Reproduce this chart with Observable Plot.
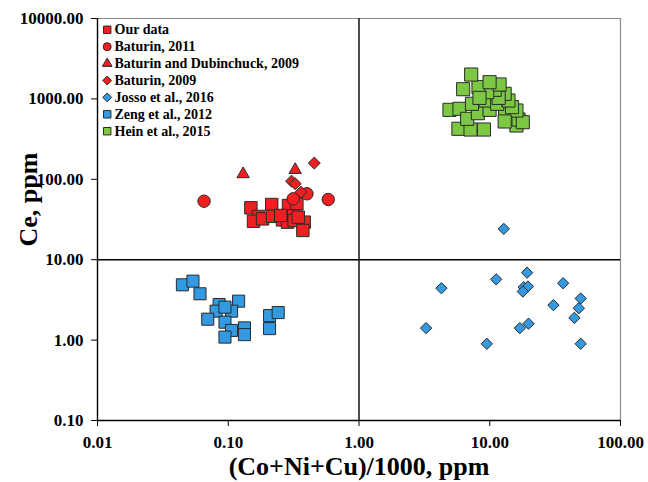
<!DOCTYPE html>
<html><head><meta charset="utf-8">
<script src="https://cdn.jsdelivr.net/npm/d3@7"></script>
<script src="https://cdn.jsdelivr.net/npm/@observablehq/plot@0.6"></script>
<style>
body{margin:0;background:#fff;}
#chart svg{display:block;}
</style>
</head><body><div id="chart"></div>
<script>
// ---- data ----
const ourX = [0.149,0.215,0.289,0.335,0.170,0.156,0.183,0.218,0.260,0.284,0.316,0.319,0.381,0.372,0.343,0.252];
const ourY = [44.2,48.6,47.2,49.6,34.5,30.1,32.2,34.7,31.3,29.3,35.2,30.7,29.3,23.1,33.8,35.5];
const bat2011X = [0.0653,0.314,0.400,0.582];
const bat2011Y = [53.4,57.2,66.0,56.1];
const batDubX = [0.130,0.325];
const batDubY = [116,131];
const bat2009X = [0.455,0.305,0.325,0.360];
const bat2009Y = [159,94.8,88,69.2];
const jossoX = [12.8,11.2,19.3,4.27,18.2,19.6,17.9,36.4,30.7,49.6,48.0,44.4,3.26,17.0,19.8,9.5,49.6];
const jossoY = [24.2,5.7,6.9,4.42,4.55,4.64,4.02,5.1,2.72,3.29,2.49,1.89,1.41,1.41,1.60,0.90,0.90];
const zengX = [0.0446,0.0537,0.0608,0.0852,0.120,0.0807,0.106,0.0944,0.0697,0.0944,0.106,0.0944,0.133,0.133,0.207,0.241,0.207];
const zengY = [4.87,5.41,3.77,2.77,3.05,2.29,2.29,2.57,1.82,1.67,1.32,1.09,1.42,1.17,2.02,2.20,1.39];
const heinX = [6.26,4.92,5.87,5.76,7.13,9.03,6.72,8.11,7.31,9.97,13.1,16.0,16.6,17.9,16.0,13.0,9.29,11.4,14.8,13.9,13.0,11.7,10.9,9.57,8.2,11.9,9.97,7.21,8.35];
const heinY = [1320,731,753,425,416,416,565,664,869,731,731,467,554,513,717,524,955,869,789,955,1157,1030,1297,1211,1400,1510,1614,2009,1030];
const xTicks = [0.01,0.1,1,10,100];
const yTicks = [0.1,1,10,100,1000,10000];
const seriesNames = ["Our data","Baturin, 2011","Baturin and Dubinchuck, 2009","Baturin, 2009","Josso et al., 2016","Zeng et al., 2012","Hein et al., 2015"];
const seriesSymbols = ["square","circle","triangle","diamond2","diamond2","square","square"];
const seriesColors = ["#f01f22","#f01f22","#f01f22","#f01f22","#3399e0","#3399e0","#7dc843"];

const font = "'Liberation Serif','Times New Roman',serif";
const stroke = "#2a2a2a";
function dots(xs, ys, symbol, fill, r) {
  return Plot.dot(xs, {x: xs, y: ys, symbol, r, fill, stroke, strokeWidth: 1});
}
const legendMarks = [];
const legendR = [4.2, 4, 3.6, 4, 4, 4.2, 4.2];
seriesNames.forEach((name, i) => {
  legendMarks.push(Plot.dot([name], {frameAnchor: "top-left", dx: 9.7, dy: 11.3 + 16.9 * i,
    symbol: seriesSymbols[i], r: legendR[i], fill: seriesColors[i], stroke, strokeWidth: 1}));
  legendMarks.push(Plot.text([name], {frameAnchor: "top-left", dx: 17, dy: 11.3 + 16.9 * i,
    text: d => d, textAnchor: "start", lineAnchor: "middle", fontSize: 14, fontWeight: "bold", fontFamily: font, fill: "#000"}));
});

const chart = Plot.plot({
  width: 648, height: 482,
  marginLeft: 97, marginRight: 28, marginTop: 18, marginBottom: 62,
  style: {fontFamily: font, fontWeight: "bold", background: "#fff", color: "#000"},
  x: {type: "log", domain: [0.01, 100]},
  y: {type: "log", domain: [0.1, 10000]},
  marks: [
    Plot.ruleY([10000], {stroke: "#8a8a8a", strokeWidth: 1.2}),
    Plot.ruleX([100], {stroke: "#8a8a8a", strokeWidth: 1.2}),
    Plot.ruleX([1], {stroke: "#000", strokeWidth: 1.4}),
    Plot.ruleY([10], {stroke: "#000", strokeWidth: 1.4}),
    Plot.ruleX([0.01], {stroke: "#000", strokeWidth: 1.4}),
    Plot.ruleY([0.1], {stroke: "#000", strokeWidth: 1.4}),
    Plot.axisY({ticks: yTicks, tickFormat: d3.format(".2f"), tickSize: 6, tickPadding: 8, fontSize: 17, fontWeight: "bold", label: null}),
    Plot.axisX({ticks: xTicks, tickFormat: d3.format(".2f"), tickSize: 6, tickPadding: 9, fontSize: 17, fontWeight: "bold", label: null}),
    dots(ourX, ourY, "square", seriesColors[0], 7),
    dots(bat2011X, bat2011Y, "circle", seriesColors[1], 6.2),
    dots(batDubX, batDubY, "triangle", seriesColors[2], 4.6),
    dots(bat2009X, bat2009Y, "diamond2", seriesColors[3], 5.4),
    dots(jossoX, jossoY, "diamond2", seriesColors[4], 5.1),
    dots(zengX, zengY, "square", seriesColors[5], 6.8),
    dots(heinX, heinY, "square", seriesColors[6], 7.4),
    ...legendMarks,
    Plot.text(["(Co+Ni+Cu)/1000, ppm"], {frameAnchor: "bottom", dy: 46, text: d => d, fontSize: 26, fontWeight: "bold", fontFamily: font, lineAnchor: "middle", fill: "#000"}),
    Plot.text(["Ce, ppm"], {frameAnchor: "left", dx: -69, dy: 27, rotate: -90, text: d => d, fontSize: 26, fontWeight: "bold", fontFamily: font, lineAnchor: "middle", fill: "#000"})
  ]
});
document.getElementById("chart").appendChild(chart);
</script></body></html>
